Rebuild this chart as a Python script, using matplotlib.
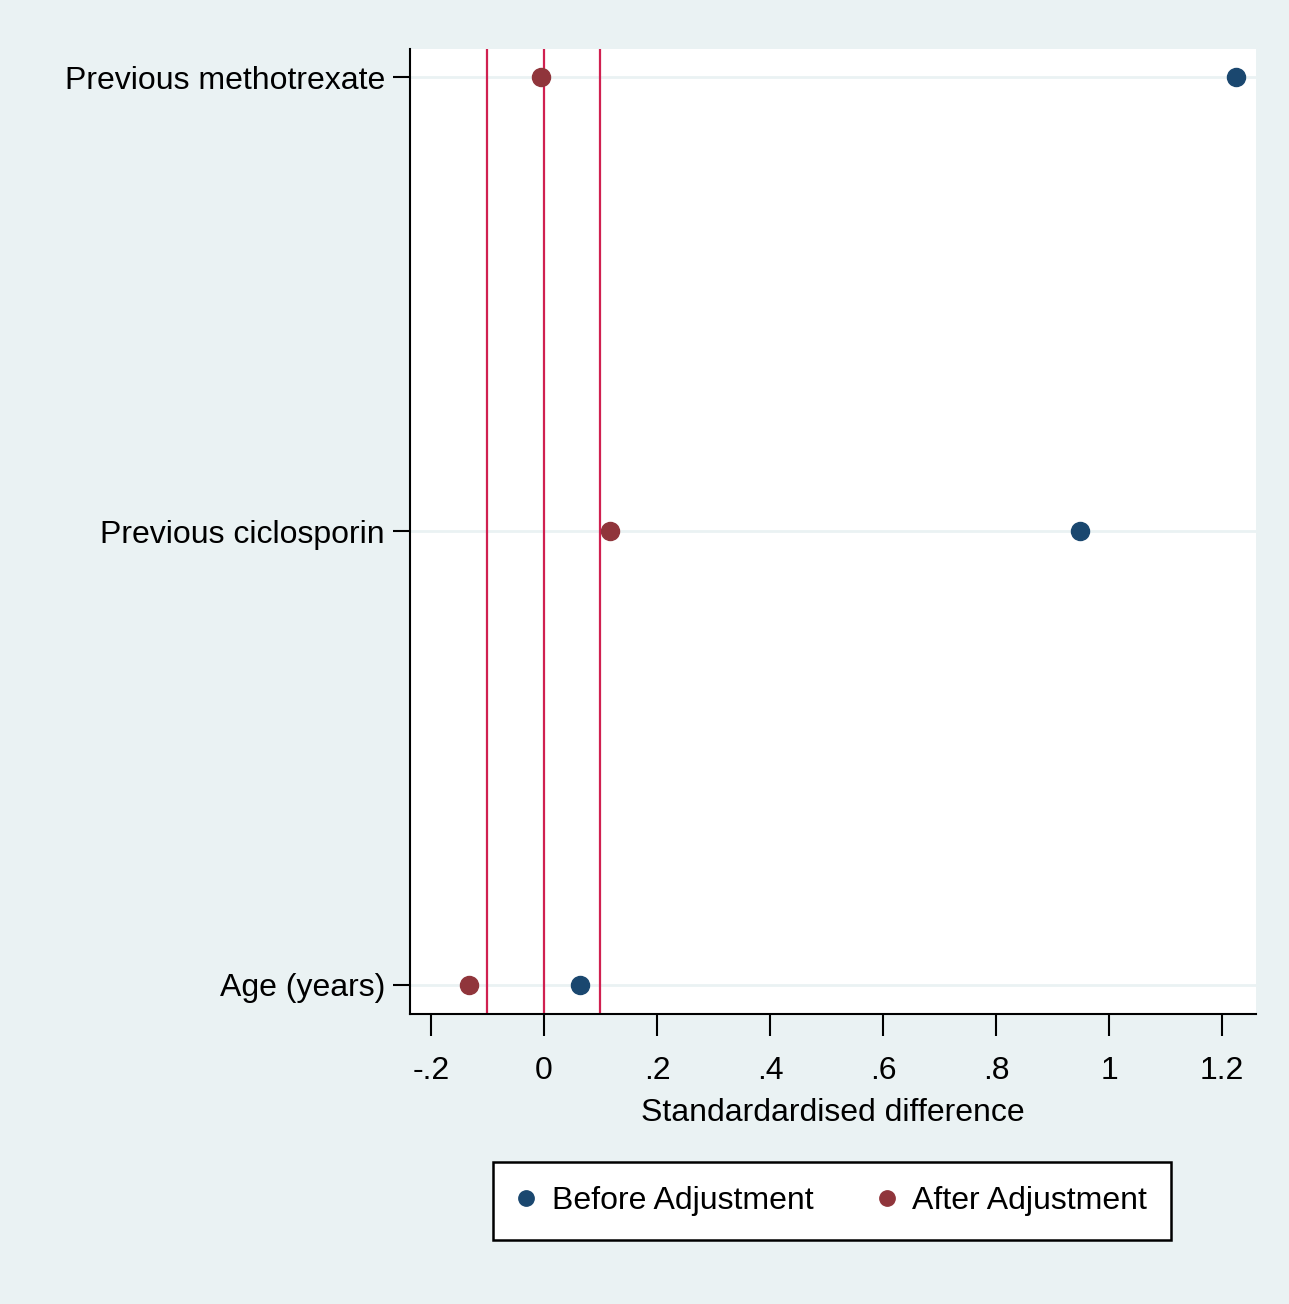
import matplotlib.pyplot as plt

plt.rcParams['font.family'] = ['Liberation Sans Narrow', 'Liberation Sans', 'DejaVu Sans']

covariates = ["Age (years)", "Previous ciclosporin", "Previous methotrexate"]
before_adj = [0.064, 0.949, 1.225]
after_adj = [-0.133, 0.117, -0.005]
ref_lines = [-0.1, 0, 0.1]
xticks = [-0.2, 0, 0.2, 0.4, 0.6, 0.8, 1.0, 1.2]
xtick_labels = ["-.2", "0", ".2", ".4", ".6", ".8", "1", "1.2"]

bg = "#eaf2f3"
navy = "#1a476f"
maroon = "#90353b"
fs = 23

fig = plt.figure(figsize=(12.89, 13.04), dpi=100, facecolor=bg)
ax = fig.add_axes([410 / 1289, 1 - 1014 / 1304, (1256 - 410) / 1289, (1014 - 49) / 1304])
ax.set_facecolor("white")

ypos = list(range(1, len(covariates) + 1))
for y in ypos:
    ax.axhline(y, color=bg, lw=2, zorder=0)
for x in ref_lines:
    ax.axvline(x, color="#d02050", lw=1.6, zorder=1)

ax.plot(before_adj, ypos, "o", color=navy, ms=13, label="Before Adjustment", zorder=3)
ax.plot(after_adj, ypos, "o", color=maroon, ms=13, label="After Adjustment", zorder=3)

ax.set_xlim(-0.237, 1.260)
ax.set_ylim(0.936, 3.062)
ax.set_yticks(ypos)
ax.set_yticklabels(covariates, fontsize=fs)
ax.set_xticks(xticks)
ax.set_xticklabels(xtick_labels, fontsize=fs)
ax.tick_params(axis="y", length=12, width=1.5, pad=6)
ax.tick_params(axis="x", length=16, width=1.5, pad=14)
ax.set_xlabel("Standardardised difference", fontsize=fs, labelpad=9)

for side in ["top", "right"]:
    ax.spines[side].set_visible(False)
for side in ["left", "bottom"]:
    ax.spines[side].set_linewidth(1.5)

leg = fig.legend(loc="center", bbox_to_anchor=(832 / 1289, 1 - 1201 / 1304), ncol=2,
                 fontsize=fs, frameon=True, fancybox=False, edgecolor="black",
                 facecolor="white", framealpha=1,
                 handletextpad=0.5, columnspacing=2.0, markerscale=0.85,
                 borderpad=0.75, handlelength=0.6, borderaxespad=0)
leg.get_frame().set_linewidth(1.8)

fig.savefig("out.png", dpi=100, facecolor=bg)
